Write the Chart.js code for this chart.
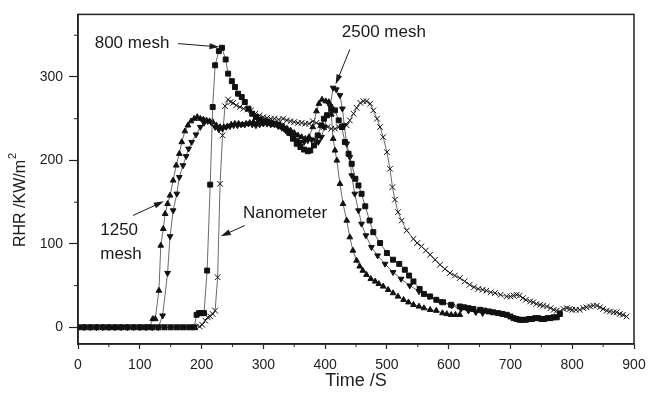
<!DOCTYPE html>
<html>
<head>
<meta charset="utf-8">
<script src="https://cdn.jsdelivr.net/npm/chart.js@4.4.1/dist/chart.umd.min.js"></script>
<style>
  html, body { margin: 0; padding: 0; background: #fff; }
</style>
</head>
<body>
<canvas id="rhrChart" width="649" height="394"></canvas>
<script>
// [time (s), RHR (kW/m2)]
const mesh800 = [
  [0,0],[10,0],[20,0],[30,0],[40,0],[50,0],[60,0],[70,0],[80,0],[90,0],[100,0],[110,0],[120,0],[130,0],
  [140,0],[150,0],[160,0],[170,0],[180,0],[188,0],[192,15],[196,17],[200,17],[204,17],[209,68],[214,171],
  [218,264],[222,314],[228,331],[233,335],[239,321],[243,304],[249,295],[254,288],[259,280],[265,276],
  [270,270],[276,262],[282,256],[288,252],[294,249],[300,247],[306,246],[312,245],[318,244],[324,243],
  [330,241],[336,238],[342,233],[348,226],[354,220],[360,216],[366,213],[372,211],[376,212],[382,218],
  [388,230],[394,242],[398,250],[403,254],[410,262],[416,260],[422,248],[427,240],[432,222],[438,208],
  [443,196],[449,178],[454,170],[459,160],[465,145],[472,128],[478,114],[489,101],[500,89],[510,81],
  [520,76],[529,69],[536,62],[543,55],[553,46],[560,40],[570,37],[580,33],[591,30],[604,27],[618,25],
  [625,24],[632,23],[640,22],[651,21],[658,20],[665,19],[672,18],[680,17],[687,16],[694,15],[700,13],
  [705,11],[710,10],[715,9],[720,9],[725,9],[730,10],[735,10],[740,11],[745,11],[750,10],[755,10],
  [760,11],[765,11],[770,12],[775,12],[780,16]
];
const mesh1250 = [
  [0,0],[10,0],[20,0],[30,0],[40,0],[50,0],[60,0],[70,0],[80,0],[90,0],[100,0],[110,0],[116,0],
  [121,10],[125,10],[131,44],[134,98],[138,118],[141,136],[145,148],[149,158],[154,176],[159,194],
  [164,208],[168,222],[173,235],[178,242],[183,247],[188,250],[193,252],[198,250],[203,249],[208,248],
  [213,247],[218,246],[224,242],[230,240],[236,240],[242,241],[248,243],[254,244],[260,244],[266,243],
  [272,244],[278,245],[284,246],[290,245],[296,244],[302,245],[308,245],[314,244],[320,243],[326,242],
  [332,240],[338,238],[344,236],[350,233],[356,230],[362,228],[368,226],[374,228],[380,240],[386,259],
  [390,268],[395,273],[401,271],[406,270],[410,255],[413,226],[416,212],[419,200],[424,172],[429,148],
  [435,128],[440,108],[445,92],[451,80],[456,73],[461,68],[467,63],[474,58],[481,55],[487,52],[494,49],
  [502,45],[510,41],[518,37],[527,33],[535,30],[543,27],[552,25],[560,23],[570,21],[580,20],[590,17],
  [597,16],[604,15],[611,15],[618,15]
];
const mesh2500 = [
  [0,0],[10,0],[20,0],[30,0],[40,0],[50,0],[60,0],[70,0],[80,0],[90,0],[100,0],[110,0],[120,0],[130,0],
  [137,14],[145,65],[149,109],[154,140],[160,160],[164,180],[170,194],[175,205],[179,214],[184,222],
  [191,231],[198,240],[204,245],[210,247],[216,245],[222,240],[228,237],[234,238],[240,240],[246,241],
  [252,242],[258,242],[264,243],[270,243],[276,244],[282,243],[288,242],[294,243],[300,244],[306,244],
  [312,243],[318,243],[324,241],[330,239],[336,236],[342,233],[348,228],[354,224],[360,222],[366,222],
  [372,224],[378,225],[384,224],[389,222],[394,228],[399,240],[404,255],[408,265],[413,287],[418,285],
  [424,278],[428,262],[431,242],[435,220],[440,204],[443,182],[448,160],[454,140],[459,124],[466,110],
  [475,96],[485,86],[497,76],[510,66],[523,58],[537,50],[552,43],[568,37],[586,31],[605,26],[620,22],
  [632,20],[644,18],[655,17]
];
const nanometer = [
  [0,0],[10,0],[20,0],[30,0],[40,0],[50,0],[60,0],[70,0],[80,0],[90,0],[100,0],[110,0],[120,0],[130,0],
  [140,0],[150,0],[160,0],[170,0],[180,0],[190,0],[197,1],[201,3],[206,8],[210,12],[214,13],[218,16],
  [222,20],[226,60],[230,172],[234,230],[238,265],[243,273],[247,270],[251,269],[256,266],[262,264],
  [268,262],[274,261],[280,260],[287,256],[294,254],[300,252],[306,251],[312,250],[318,250],[325,249],
  [332,250],[338,248],[344,247],[350,246],[356,245],[362,245],[368,244],[374,244],[380,247],[386,245],
  [392,242],[398,240],[404,240],[410,238],[416,238],[422,240],[428,240],[435,242],[440,248],[446,256],
  [451,263],[457,269],[462,271],[467,271],[473,268],[478,260],[484,250],[489,240],[494,228],[500,210],
  [505,190],[509,168],[513,153],[518,138],[524,128],[532,116],[543,106],[549,101],[556,97],[563,92],
  [570,87],[578,81],[586,75],[594,70],[602,65],[610,62],[618,59],[626,55],[634,51],[641,48],[648,46],
  [655,45],[661,44],[668,42],[675,41],[684,39],[694,37],[700,37],[705,38],[710,39],[715,38],[720,35],
  [725,33],[732,31],[737,30],[742,28],[748,27],[753,26],[759,25],[765,23],[770,21],[775,20],[780,19],
  [786,22],[791,23],[796,22],[800,21],[806,21],[812,21],[818,23],[823,24],[829,25],[834,26],[840,26],
  [845,24],[850,22],[856,20],[861,19],[867,18],[872,18],[877,16],[882,15],[888,13]
];

const xMajor = [0, 100, 200, 300, 400, 500, 600, 700, 800, 900];
const xMinor = [50, 150, 250, 350, 450, 550, 650, 750, 850];
const yMajor = [0, 100, 200, 300];
const yMinor = [50, 150, 250, 350];

// callouts, in data units: label anchor, arrow start, arrow tip
const notes = [
  { lines: ['800 mesh'], at: [27, 340], from: [162, 340], to: [229, 336] },
  { lines: ['2500 mesh'], at: [427, 354], from: [440, 333], to: [417, 291] },
  { lines: ['1250', 'mesh'], at: [36, 116], from: [89, 134], to: [139, 151] },
  { lines: ['Nanometer'], at: [267, 137], from: [270, 122], to: [231, 109] },
];

const FONT = '"Liberation Sans", Arial, Helvetica, sans-serif';
Chart.defaults.font.family = FONT;
Chart.defaults.color = '#222';

function toXY(arr) {
  return arr.map(p => ({ x: p[0], y: p[1] }));
}

function series(label, arr, style, radius, rotation) {
  return {
    label: label,
    data: toXY(arr),
    borderColor: '#444',
    borderWidth: 0.8,
    pointStyle: style,
    pointRadius: radius,
    pointRotation: rotation || 0,
    pointBackgroundColor: '#111',
    pointBorderColor: '#111',
    pointBorderWidth: 1,
    tension: 0,
  };
}

const extras = {
  id: 'extras',
  afterDraw(chart) {
    const { ctx, chartArea: a, scales: { x, y } } = chart;
    ctx.save();
    ctx.strokeStyle = '#222';
    ctx.lineWidth = 1.5;
    ctx.strokeRect(a.left, a.top, a.right - a.left, a.bottom - a.top);

    ctx.lineWidth = 1;
    ctx.beginPath();
    xMinor.forEach(v => {
      const px = x.getPixelForValue(v);
      ctx.moveTo(px, a.bottom);
      ctx.lineTo(px, a.bottom + 3);
    });
    yMinor.forEach(v => {
      const py = y.getPixelForValue(v);
      ctx.moveTo(a.left, py);
      ctx.lineTo(a.left - 4, py);
    });
    ctx.stroke();

    // callouts
    ctx.fillStyle = '#1a1a1a';
    ctx.strokeStyle = '#1a1a1a';
    ctx.font = '17px ' + FONT;
    ctx.textAlign = 'left';
    ctx.textBaseline = 'middle';
    notes.forEach(n => {
      const tx = x.getPixelForValue(n.at[0]);
      const ty = y.getPixelForValue(n.at[1]);
      n.lines.forEach((s, i) => ctx.fillText(s, tx, ty + i * 24));
      const x0 = x.getPixelForValue(n.from[0]), y0 = y.getPixelForValue(n.from[1]);
      const x1 = x.getPixelForValue(n.to[0]), y1 = y.getPixelForValue(n.to[1]);
      const ang = Math.atan2(y1 - y0, x1 - x0);
      ctx.lineWidth = 1;
      ctx.beginPath();
      ctx.moveTo(x0, y0);
      ctx.lineTo(x1 - 6 * Math.cos(ang), y1 - 6 * Math.sin(ang));
      ctx.stroke();
      ctx.beginPath();
      ctx.moveTo(x1, y1);
      ctx.lineTo(x1 - 10 * Math.cos(ang) + 3 * Math.sin(ang), y1 - 10 * Math.sin(ang) - 3 * Math.cos(ang));
      ctx.lineTo(x1 - 10 * Math.cos(ang) - 3 * Math.sin(ang), y1 - 10 * Math.sin(ang) + 3 * Math.cos(ang));
      ctx.closePath();
      ctx.fill();
    });

    // y axis title with superscript
    ctx.translate(a.left - 57, a.bottom - 97);
    ctx.rotate(-Math.PI / 2);
    ctx.font = '16px ' + FONT;
    ctx.textBaseline = 'middle';
    const main = 'RHR /KW/m';
    ctx.fillText(main, 0, 0);
    const w = ctx.measureText(main).width;
    ctx.font = '11px ' + FONT;
    ctx.fillText('2', w + 1, -8);
    ctx.restore();
  }
};

new Chart(document.getElementById('rhrChart'), {
  type: 'line',
  data: {
    datasets: [
      series('800 mesh', mesh800, 'rect', 3.5),
      series('1250 mesh', mesh1250, 'triangle', 3.3),
      series('2500 mesh', mesh2500, 'triangle', 3.3, 180),
      series('Nanometer', nanometer, 'crossRot', 4),
    ],
  },
  options: {
    responsive: false,
    animation: false,
    layout: { padding: { left: 0, right: 15, top: 13, bottom: 0 } },
    scales: {
      x: {
        type: 'linear',
        min: 0,
        max: 900,
        afterFit: s => { s.height = 50; s.paddingRight = 12; s.paddingLeft = 0; },
        afterBuildTicks: s => { s.ticks = xMajor.map(v => ({ value: v })); },
        grid: { drawOnChartArea: false, tickLength: 5, tickColor: '#222', tickWidth: 1.2 },
        border: { color: '#222', width: 1.5 },
        ticks: { font: { size: 14 }, padding: 8, maxRotation: 0, color: '#222' },
        title: { display: true, text: 'Time /S', font: { size: 18 }, padding: { top: 0, bottom: 2 }, color: '#222' },
      },
      y: {
        type: 'linear',
        min: -20,
        max: 375,
        afterFit: s => { s.width = 78; },
        afterBuildTicks: s => { s.ticks = yMajor.map(v => ({ value: v })); },
        grid: { drawOnChartArea: false, tickLength: 9, tickColor: '#222', tickWidth: 1.2 },
        border: { color: '#222', width: 1.5 },
        ticks: { font: { size: 14 }, padding: 6, color: '#222' },
      },
    },
    plugins: {
      legend: { display: false },
      tooltip: { enabled: false },
    },
  },
  plugins: [extras],
});
</script>
</body>
</html>
